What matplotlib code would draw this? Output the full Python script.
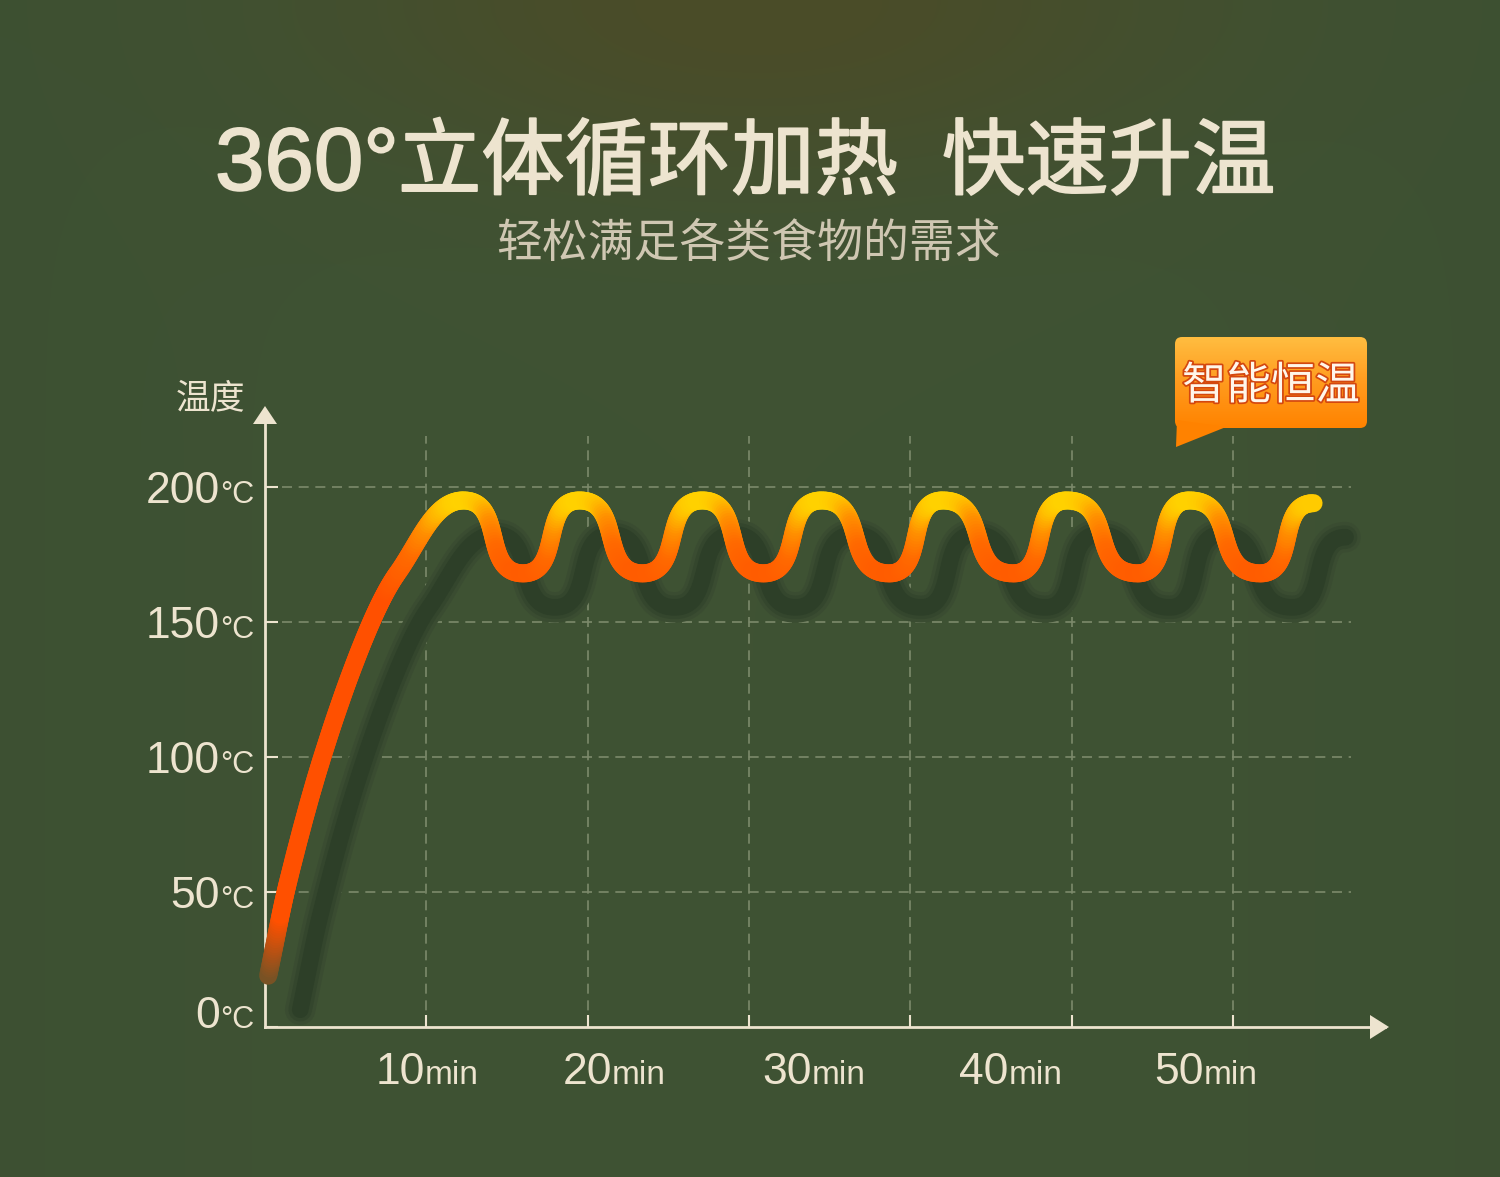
import numpy as np
import matplotlib
matplotlib.use("Agg")
import matplotlib.pyplot as plt
import matplotlib.transforms as mtransforms
import matplotlib.patheffects as pe
from matplotlib.collections import LineCollection
from matplotlib.colors import LinearSegmentedColormap, Normalize, to_rgb
from matplotlib.patches import FancyBboxPatch, Polygon

### data ###
# rising part of the heating curve (min, degC)
rise_t = [0.2, 1.4, 3.5, 6.1, 8.2]
rise_temp = [19, 53, 99, 143, 168]
# holding phase: tops and bottoms of the wave
peak_t = [12.3, 19.5, 27.1, 34.5, 42.0, 49.7, 57.3, 65.0]
peak_temp = [195, 195, 195, 195, 195, 195, 195, 194]
trough_t = [16.0, 23.4, 30.9, 38.7, 46.4, 54.1, 61.7]
trough_temp = [168, 168, 168, 168, 168, 168, 168]

ytick_vals = [0, 50, 100, 150, 200]
xtick_vals = [10, 20, 30, 40, 50, 60]
xlabel_nums = ["10", "20", "30", "40", "50"]
xlabel_at = [9.9, 21.5, 33.9, 46.1, 58.2]

title_num = "360°"
title_a = "立体循环加热"
title_b = "快速升温"
subtitle = "轻松满足各类食物的需求"
ylabel = "温度"
badge = "智能恒温"

### style ###
BG = "#3f5334"
CREAM = "#ede4cf"
GRID = "#7c8a6b"
CJK = ["Noto Sans CJK SC", "DejaVu Sans"]
LAT = ["Liberation Sans", "DejaVu Sans"]
HANDLE = 0.7

fig = plt.figure(figsize=(15, 11.77), dpi=100)

# background with the olive glow at the top
bg_ax = fig.add_axes([0, 0, 1, 1], zorder=0)
gx, gy = np.meshgrid(np.linspace(0, 1500, 300), np.linspace(0, 1177, 236))
glow = np.exp(-((gx - 760) / 450) ** 2 - (gy / 180) ** 2)
edge = np.clip(np.abs(gx - 750) / 750, 0, 1) ** 2 * 0.25
base = np.array(to_rgb(BG))
glowc = np.array(to_rgb("#4b4c28"))
dark = np.array(to_rgb("#384a2e"))
img = base * (1 - glow[..., None]) + glowc * glow[..., None]
img = img * (1 - edge[..., None]) + dark * edge[..., None]
bg_ax.imshow(img, extent=(0, 1500, 1177, 0), aspect="auto", interpolation="bilinear")
bg_ax.set_xlim(0, 1500)
bg_ax.set_ylim(1177, 0)
bg_ax.axis("off")

# main chart axes: x=0 at px 265, y=0 at px 1027
ax = fig.add_axes([265 / 1500, 150 / 1177, 1120 / 1500, 617 / 1177], zorder=1)
ax.patch.set_alpha(0)
ax.set_xlim(0, 69.43)
ax.set_ylim(0, 228.5)
for s in ["top", "right"]:
    ax.spines[s].set_visible(False)
for s in ["left", "bottom"]:
    ax.spines[s].set_color(CREAM)
    ax.spines[s].set_linewidth(2)
ax.set_yticks(ytick_vals)
ax.set_xticks(xtick_vals)
ax.tick_params(axis="both", direction="in", length=9, width=1.5, colors=CREAM,
               labelleft=False, labelbottom=False)

ax.hlines(ytick_vals[1:], 1.05, 67.3, colors=GRID, linewidth=1.2,
          linestyles=(0, (6, 4)), zorder=1)
ax.vlines(xtick_vals, 0, 219, colors=GRID, linewidth=1.2,
          linestyles=(0, (6, 4)), zorder=1)

# build the curve through the read points
ext_t, ext_T = [], []
for i in range(len(peak_t)):
    ext_t.append(peak_t[i]); ext_T.append(peak_temp[i])
    if i < len(trough_t):
        ext_t.append(trough_t[i]); ext_T.append(trough_temp[i])
P = np.array(list(zip(rise_t + ext_t, rise_temp + ext_T)), float)
n_rise = len(rise_t)
slope = np.zeros(len(P))
for i in range(n_rise):
    a = P[max(i - 1, 0)]
    b = P[i + 1]
    slope[i] = (b[1] - a[1]) / (b[0] - a[0])


def bez(p0, c1, c2, p1, n=40):
    s = np.linspace(0, 1, n)[:, None]
    return (1 - s) ** 3 * p0 + 3 * (1 - s) ** 2 * s * c1 + 3 * (1 - s) * s ** 2 * c2 + s ** 3 * p1


pts = [P[:1]]
for i in range(len(P) - 1):
    p0, p1 = P[i], P[i + 1]
    dt = p1[0] - p0[0]
    if i + 1 < n_rise:
        c1 = p0 + np.array([dt / 3, slope[i] * dt / 3])
        c2 = p1 - np.array([dt / 3, slope[i + 1] * dt / 3])
    elif i + 1 == n_rise:  # last rise point into the first top
        c1 = p0 + np.array([dt / 3, slope[i] * dt / 3])
        c2 = p1 - np.array([0.45 * dt, 0])
    else:
        c1 = p0 + np.array([HANDLE * dt, 0])
        c2 = p1 - np.array([HANDLE * dt, 0])
    pts.append(bez(p0, c1, c2, p1)[1:])
curve = np.vstack(pts)

# dark shadow, shifted right and down
shadow_tr = mtransforms.offset_copy(ax.transData, fig=fig, x=32, y=-34, units="dots")
for lw, col in [(22, "#3a4c31"), (17, "#34462d"), (12, "#2d3f28")]:
    ax.plot(curve[:, 0], curve[:, 1], color=col, lw=lw, transform=shadow_tr,
            solid_capstyle="round", solid_joinstyle="round", zorder=2)

# orange -> yellow heat line
cmap = LinearSegmentedColormap.from_list(
    "heat", [(0, "#ff5000"), (0.45, "#ff6a00"), (0.7, "#ff8f00"),
             (0.88, "#ffc000"), (1, "#ffe000")])
norm = Normalize(160, 197, clip=True)
segs = np.stack([curve[:-1], curve[1:]], axis=1)
mid_T = segs[:, :, 1].mean(axis=1)
cols = cmap(norm(mid_T))[:, :3]
fade = np.clip((mid_T - 12) / 30, 0.3, 1)[:, None]
cols = cols * fade + base * (1 - fade)
lc = LineCollection(segs, colors=cols, linewidths=13, capstyle="round",
                    joinstyle="round", zorder=3, clip_on=False)
ax.add_collection(lc)

# y tick labels
yax = ax.get_yaxis_transform()
for v in ytick_vals:
    lift = 15 if v == 0 else 0
    ax.annotate(str(v), xy=(0, v), xycoords=yax, xytext=(-45, -16 + lift),
                textcoords="offset pixels", ha="right", va="baseline",
                fontsize=32, color=CREAM, family=LAT)
    ax.annotate("°C", xy=(0, v), xycoords=yax, xytext=(-45, -16 + lift),
                textcoords="offset pixels", ha="left", va="baseline",
                fontsize=22, color=CREAM, family=LAT)

# x tick labels
xax = ax.get_xaxis_transform()
for num, t in zip(xlabel_nums, xlabel_at):
    ax.annotate(num, xy=(t, 0), xycoords=xax, xytext=(0, -57),
                textcoords="offset pixels", ha="right", va="baseline",
                fontsize=32, color=CREAM, family=LAT)
    ax.annotate("min", xy=(t, 0), xycoords=xax, xytext=(0, -57),
                textcoords="offset pixels", ha="left", va="baseline",
                fontsize=24, color=CREAM, family=LAT)

# overlay in pixel units for titles, arrows and the badge
ov = fig.add_axes([0, 0, 1, 1], zorder=2)
ov.patch.set_alpha(0)
ov.set_xlim(0, 1500)
ov.set_ylim(1177, 0)
ov.axis("off")

thick = [pe.withStroke(linewidth=1.3, foreground=CREAM)]
ov.text(215, 190, title_num, fontsize=64, color=CREAM, family=LAT, va="baseline",
        path_effects=thick)
ov.text(398, 188, title_a, fontsize=60, color=CREAM, family=CJK,
        weight="medium", va="baseline", path_effects=thick)
ov.text(942, 188, title_b, fontsize=60, color=CREAM, family=CJK,
        weight="medium", va="baseline", path_effects=thick)
ov.text(748, 257, subtitle, fontsize=33, color="#cfc7b2", family=CJK,
        weight="light", ha="center", va="baseline")
ov.text(210, 408, ylabel, fontsize=25, color=CREAM, family=CJK,
        ha="center", va="baseline")

ov.add_patch(Polygon([(265, 406), (253, 424), (277, 424)], closed=True,
                     facecolor=CREAM, edgecolor="none"))
ov.add_patch(Polygon([(1389, 1027), (1370, 1015), (1370, 1039)], closed=True,
                     facecolor=CREAM, edgecolor="none"))

# badge with speech tail
ov.add_patch(Polygon([(1177, 420), (1176, 447), (1226, 427)], closed=True,
                     facecolor="#ff8200", edgecolor="none"))
box = FancyBboxPatch((1175, 337), 192, 91, boxstyle="round,pad=0,rounding_size=7",
                     facecolor="none", edgecolor="none")
ov.add_patch(box)
grad = LinearSegmentedColormap.from_list("badge", ["#ffbd40", "#ff9b1e", "#ff8300"])
gimg = grad(np.linspace(0, 1, 100))[:, None, :3]
im = ov.imshow(gimg, extent=(1175, 1367, 428, 337), aspect="auto",
               interpolation="bilinear")
im.set_clip_path(box)
ov.set_xlim(0, 1500)
ov.set_ylim(1177, 0)
ov.text(1271, 399, badge, fontsize=32, color="#fff6ea", family=CJK,
        weight="medium", ha="center", va="baseline",
        path_effects=[pe.withStroke(linewidth=2.5, foreground="#d4470f")])

fig.savefig("out.png", dpi=100)
